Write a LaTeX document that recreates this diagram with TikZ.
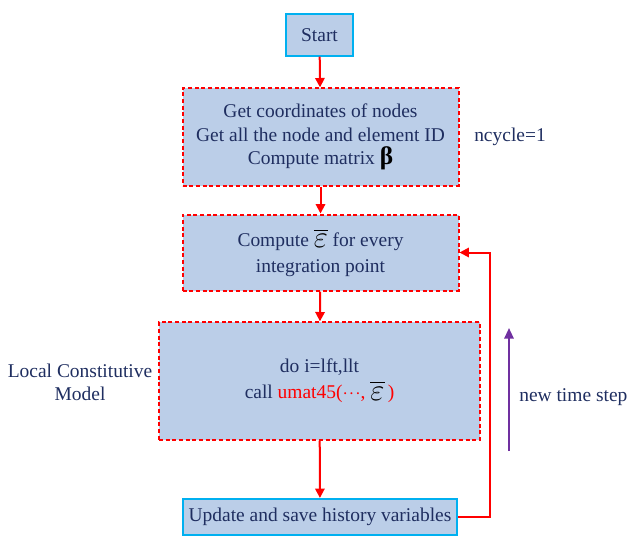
\documentclass[tikz,border=0pt]{standalone}
\usepackage{amsmath,amssymb}
\usepackage{fontspec}
\setmainfont{Liberation Serif}
\usepackage{xcolor}
\usetikzlibrary{arrows.meta, positioning, calc}
\definecolor{boxfill}{RGB}{187,206,232}
\definecolor{boxcyan}{RGB}{0,176,240}
\definecolor{textnavy}{RGB}{31,46,96}
\definecolor{stepviolet}{RGB}{112,48,160}
\newcommand{\epsbar}{\raisebox{-1pt}{\scalebox{1.6}{\color{black}$\overline{\varepsilon}$}}}
\tikzset{
    termbox/.style={
        rectangle,
        draw=boxcyan,
        line width=1.6pt,
        fill=boxfill,
        text=textnavy,
        align=center,
        font=\fontsize{14.6}{17.5}\selectfont
    },
    procbox/.style={
        rectangle,
        draw=red,
        dashed,
        dash pattern=on 3pt off 2pt,
        line width=1.5pt,
        fill=boxfill,
        text=textnavy,
        align=center,
        font=\fontsize{14.6}{17.5}\selectfont
    },
    note/.style={
        text=textnavy,
        align=center,
        font=\fontsize{14.6}{17.5}\selectfont
    },
    wire/.style={
        draw=red,
        line width=1.5pt,
        -{Triangle[length=7pt,width=7pt]}
    },
    steparrow/.style={
        draw=stepviolet,
        line width=1.5pt,
        -{Triangle[length=8pt,width=7pt]}
    }
}

\begin{document}
\begin{tikzpicture}[x=0.75pt,y=-0.75pt]
\useasboundingbox (0,0) rectangle (630,536);

% Flow boxes
\node[termbox, minimum width=50pt, minimum height=31pt] (start) at (319.5,35) {Start};
\node[procbox, minimum width=207pt, minimum height=73pt] (coords) at (320.5,137)
    {Get coordinates of nodes\\Get all the node and element ID\\Compute matrix {\fontsize{19}{19}\selectfont\color{black}\textbf{β}}};
\node[procbox, minimum width=207pt, minimum height=57pt] (strain) at (320.5,252.5)
    {Compute \epsbar\ for every\\[2pt]integration point};
\node[procbox, minimum width=241pt, minimum height=88pt] (local) at (319.5,381)
    {do i=lft,llt\\[2pt]call \textcolor{red}{umat45($\cdot\!\cdot\!\cdot$,\ \epsbar\,)}};
\node[termbox, minimum width=206pt, minimum height=27pt, inner sep=2pt] (update) at (320,517)
    {Update and save history variables};

% Side notes
\node[note] (ncycle) at (510,137) {ncycle=1};
\node[note] (model) at (80,382) {Local Constitutive\\Model};
\node[note, anchor=west, inner sep=0pt] (newstep) at (519,397) {new time step};
\coordinate (stepbot) at (509,451);
\coordinate (steptop) at (509,328);
\coordinate (loopx) at (490,0);

\draw[wire] (start) -- (coords);
\draw[wire] (coords) -- (strain);
\draw[wire] (strain) -- (local);
\draw[wire] (local) -- (update);
\draw[wire] (update.east) -- (update.east -| loopx) -- (strain.east -| loopx) -- (strain.east);
\draw[steparrow] (stepbot) -- (steptop);

\end{tikzpicture}
\end{document}
